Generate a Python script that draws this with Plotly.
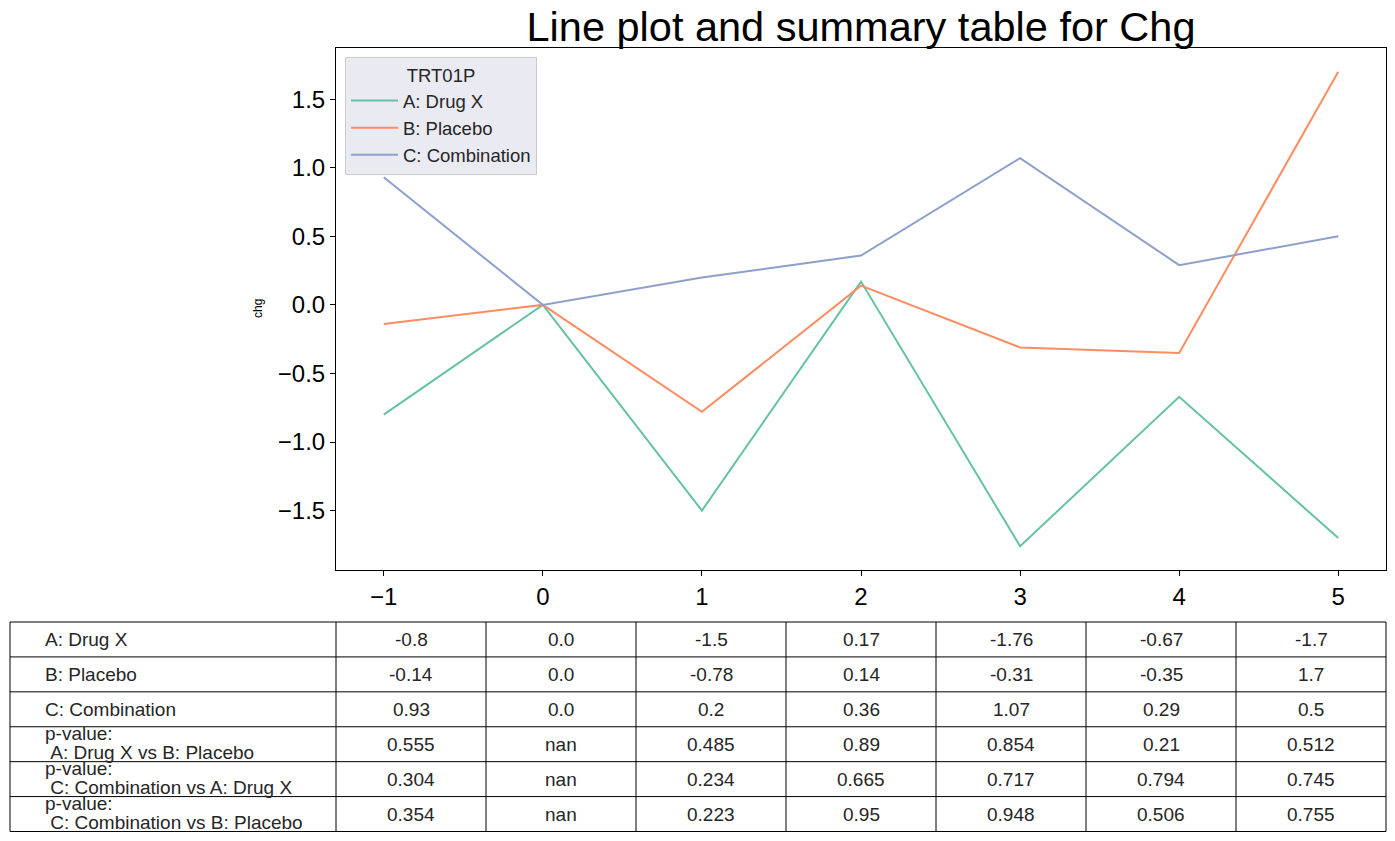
import plotly.graph_objects as go

# ---------------- data ----------------
visits = [-1, 0, 1, 2, 3, 4, 5]
groups = ["A: Drug X", "B: Placebo", "C: Combination"]
chg_drug_x = [-0.8, 0.0, -1.5, 0.17, -1.76, -0.67, -1.7]
chg_placebo = [-0.14, 0.0, -0.78, 0.14, -0.31, -0.35, 1.7]
chg_combination = [0.93, 0.0, 0.2, 0.36, 1.07, 0.29, 0.5]
nan = float("nan")
p_x_vs_placebo = [0.555, nan, 0.485, 0.89, 0.854, 0.21, 0.512]
p_comb_vs_x = [0.304, nan, 0.234, 0.665, 0.717, 0.794, 0.745]
p_comb_vs_placebo = [0.354, nan, 0.223, 0.95, 0.948, 0.506, 0.755]
row_labels = [
    "A: Drug X",
    "B: Placebo",
    "C: Combination",
    "p-value:\n A: Drug X vs B: Placebo",
    "p-value:\n C: Combination vs A: Drug X",
    "p-value:\n C: Combination vs B: Placebo",
]
yticks = [-1.5, -1.0, -0.5, 0.0, 0.5, 1.0, 1.5]

series = [chg_drug_x, chg_placebo, chg_combination]
colors = ["#66c2a5", "#fc8d62", "#8da0cb"]
table_rows = [chg_drug_x, chg_placebo, chg_combination,
              p_x_vs_placebo, p_comb_vs_x, p_comb_vs_placebo]

# ---------------- layout geometry (pixels) ----------------
W, H = 1395, 841
L, R, T, B = 336, 1386, 48, 570
TAB_L, TAB_T, TAB_B = 10, 622, 831.5
FIRST_COL_W = 326
FONT = "Liberation Sans, Arial, sans-serif"


def px2x(px):
    return (px - L) / (R - L)


def py2y(py):
    return (B - py) / (B - T)


fig = go.Figure()
for name, vals, col in zip(groups, series, colors):
    fig.add_trace(go.Scatter(x=visits, y=vals, mode="lines", name=name,
                             line=dict(color=col, width=2)))

# ---------------- table ----------------
n_rows = len(table_rows)
n_cols = len(visits)
row_h = (TAB_B - TAB_T) / n_rows
col_w = (R - (TAB_L + FIRST_COL_W)) / n_cols
col_edges = [TAB_L, TAB_L + FIRST_COL_W] + [TAB_L + FIRST_COL_W + col_w * (j + 1) for j in range(n_cols)]

shapes = []
for i in range(n_rows + 1):
    yy = py2y(TAB_T + i * row_h)
    shapes.append(dict(type="line", xref="paper", yref="paper",
                       x0=px2x(TAB_L), x1=px2x(R), y0=yy, y1=yy,
                       line=dict(color="black", width=1)))
for xe in col_edges:
    shapes.append(dict(type="line", xref="paper", yref="paper",
                       x0=px2x(xe), x1=px2x(xe), y0=py2y(TAB_T), y1=py2y(TAB_B),
                       line=dict(color="black", width=1)))

annotations = []
tfont = dict(family=FONT, size=19, color="#262626")
for i, (lab, vals) in enumerate(zip(row_labels, table_rows)):
    cy = TAB_T + (i + 0.5) * row_h
    lines = lab.split("\n")
    if len(lines) == 1:
        annotations.append(dict(text=lines[0], xref="paper", yref="paper",
                                x=px2x(TAB_L + 33), y=py2y(cy), xanchor="left",
                                yanchor="middle", showarrow=False, font=tfont))
    else:
        offs = [-11, 8]
        for ln, off in zip(lines, offs):
            txt = ln.replace(" ", "\u00a0", 1) if ln.startswith(" ") else ln
            annotations.append(dict(text=txt, xref="paper", yref="paper",
                                    x=px2x(TAB_L + 33), y=py2y(cy + off), xanchor="left",
                                    yanchor="middle", showarrow=False, font=tfont))
    for j, v in enumerate(vals):
        cx = (col_edges[j + 1] + col_edges[j + 2]) / 2
        annotations.append(dict(text=str(v), xref="paper", yref="paper",
                                x=px2x(cx), y=py2y(cy), xanchor="center",
                                yanchor="middle", showarrow=False, font=tfont))

# y-axis label
annotations.append(dict(text="chg", xref="paper", yref="paper",
                        x=px2x(258), y=0.5, xanchor="center", yanchor="middle",
                        textangle=-90, showarrow=False,
                        font=dict(family=FONT, size=12, color="black")))

ymin = min(min(s) for s in series)
ymax = max(max(s) for s in series)
ypad = (ymax - ymin) * 0.05
xpad = (max(visits) - min(visits)) * 0.05

fig.update_layout(
    width=W, height=H,
    margin=dict(l=L, r=W - R, t=T, b=H - B, autoexpand=False),
    paper_bgcolor="white", plot_bgcolor="white",
    font=dict(family=FONT, color="black"),
    title=dict(text="Line plot and summary table for Chg", x=px2x(861), xref="paper",
               xanchor="center", y=1 - 26 / H, yref="container", yanchor="middle",
               font=dict(family=FONT, size=41.5, color="black")),
    legend=dict(title=dict(text="TRT01P", side="top center",
                           font=dict(family=FONT, size=18.5, color="#262626")),
                font=dict(family=FONT, size=18.5, color="#262626"),
                x=px2x(345), y=py2y(57), xanchor="left", yanchor="top",
                bgcolor="#EAEAF2", bordercolor="#CCCCCC", borderwidth=1,
                itemwidth=47, tracegroupgap=0),
    shapes=shapes,
    annotations=annotations,
    xaxis=dict(range=[min(visits) - xpad, max(visits) + xpad], tickvals=visits,
               showgrid=False, zeroline=False, showline=True, linecolor="black",
               linewidth=1, mirror=True, ticks="outside", ticklen=5, tickcolor="black",
               tickfont=dict(family=FONT, size=24, color="black")),
    yaxis=dict(range=[ymin - ypad, ymax + ypad], tickvals=yticks, tickformat=".1f",
               showgrid=False, zeroline=False, showline=True, linecolor="black",
               linewidth=1, mirror=True, ticks="outside", ticklen=5, tickcolor="black",
               tickfont=dict(family=FONT, size=24, color="black")),
)

fig.write_html("out.html")
